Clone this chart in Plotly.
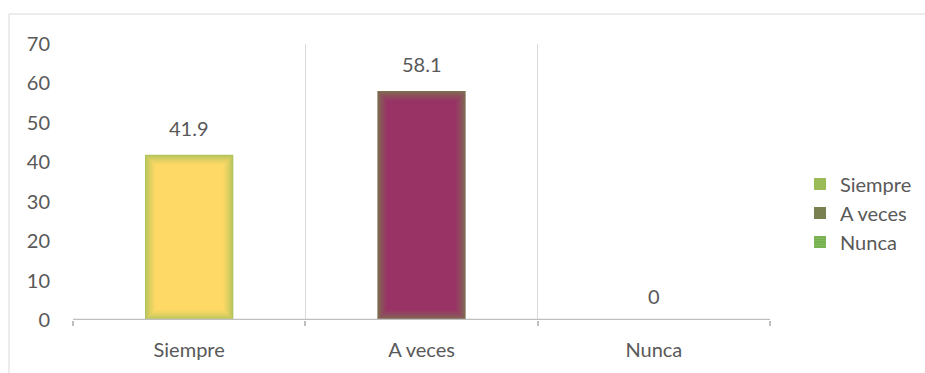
import plotly.graph_objects as go

# Survey answers and their percentages
categories = ["Siempre", "A veces", "Nunca"]
values = [41.9, 58.1, 0]
value_labels = ["41.9", "58.1", "0"]
y_ticks = [0, 10, 20, 30, 40, 50, 60, 70]

# Bar fill (centre) and soft-edge glow colours, one per answer
fill_colors = ["#FFD966", "#993366", "#70AD47"]
glow_colors = ["#A4C05A", "#7A7A4E", "#70AD47"]
legend_colors = ["#9BBB59", "#7A8050", "#70AD47"]

FONT = "Lato, 'Open Sans', sans-serif"
TEXT = "#595959"
FS = 20

W, H = 925, 373
ML, MR, MT, MB = 73, 155, 44, 53
plot_w = W - ML - MR
plot_h = H - MT - MB
y_max = 70
bar_width = 0.38

px_x = 3.0 / plot_w            # one pixel in x data units (3 categories)
px_y = y_max / plot_h          # one pixel in y data units
GLOW_STEPS = 11


def hex_to_rgb(h):
    h = h.lstrip("#")
    return tuple(int(h[i:i + 2], 16) for i in (0, 2, 4))


def blend(c1, c2, t):
    a, b = hex_to_rgb(c1), hex_to_rgb(c2)
    return "rgb({},{},{})".format(*[round(a[i] + (b[i] - a[i]) * t) for i in range(3)])


fig = go.Figure()

# Each bar is drawn as nested layers that fade from the edge colour to the fill
for i, (cat, val) in enumerate(zip(categories, values)):
    if val <= 0:
        continue
    for k in range(GLOW_STEPS):
        t = 0.12 + 0.88 * (k / (GLOW_STEPS - 1)) ** 0.7
        inset = k * px_y
        fig.add_trace(go.Bar(
            x=[i], y=[val - 2 * inset], base=[inset],
            width=bar_width - 2 * k * px_x,
            marker=dict(color=blend(glow_colors[i], fill_colors[i], t), line=dict(width=0)),
            showlegend=False, hoverinfo="skip",
        ))

# Legend entries
patterns = ["", "", "-"]
for i, cat in enumerate(categories):
    fig.add_trace(go.Bar(
        x=[None], y=[None], name=cat,
        marker=dict(color=legend_colors[i],
                    line=dict(width=0),
                    pattern=dict(shape=patterns[i], fgcolor="#A9D18E", bgcolor=legend_colors[i],
                                 size=3, solidity=0.4) if patterns[i] else None),
    ))

# Value labels above the bars
for i, (val, lab) in enumerate(zip(values, value_labels)):
    fig.add_annotation(x=i, y=val, text=lab, showarrow=False, yanchor="bottom",
                       yshift=13 if val > 0 else 10,
                       font=dict(family=FONT, size=FS, color=TEXT))

# Outer chart frame
fig.add_shape(type="rect", xref="paper", yref="paper",
              x0=(9 - ML) / plot_w, x1=(W + 10 - ML) / plot_w,
              y0=-(H + 10 - MT - plot_h) / plot_h, y1=1 + (MT - 14) / plot_h,
              line=dict(color="#D9D9D9", width=1), layer="below")

fig.update_layout(
    width=W, height=H,
    margin=dict(l=ML, r=MR, t=MT, b=MB, autoexpand=False),
    barmode="overlay",
    plot_bgcolor="white", paper_bgcolor="white",
    font=dict(family=FONT, size=FS, color=TEXT),
    legend=dict(x=(822 - 22 - ML) / plot_w, xanchor="left",
                y=(320 - 213) / plot_h, yanchor="middle",
                font=dict(family=FONT, size=FS, color=TEXT),
                itemwidth=30, tracegroupgap=0, bgcolor="rgba(0,0,0,0)"),
    xaxis=dict(
        range=[-0.5, 2.5], tickvals=[0, 1, 2], ticktext=categories,
        showgrid=False, zeroline=False, ticks="", ticklabelstandoff=16,
        showline=False,
        minor=dict(tick0=-0.5, dtick=1, showgrid=True, gridcolor="#D9D9D9", gridwidth=1,
                   ticks="outside", ticklen=5, tickcolor="#BFBFBF", tickwidth=2),
        fixedrange=True,
    ),
    yaxis=dict(
        range=[0, y_max], tickvals=y_ticks, showgrid=False, zeroline=False,
        showline=False, ticks="", ticklabelstandoff=22, fixedrange=True,
    ),
    showlegend=True,
)

# Category axis baseline
fig.add_shape(type="line", xref="x", yref="y", x0=-0.5, x1=2.5, y0=0, y1=0,
              line=dict(color="#BFBFBF", width=2.5), layer="above")

fig.write_html("out.html")
